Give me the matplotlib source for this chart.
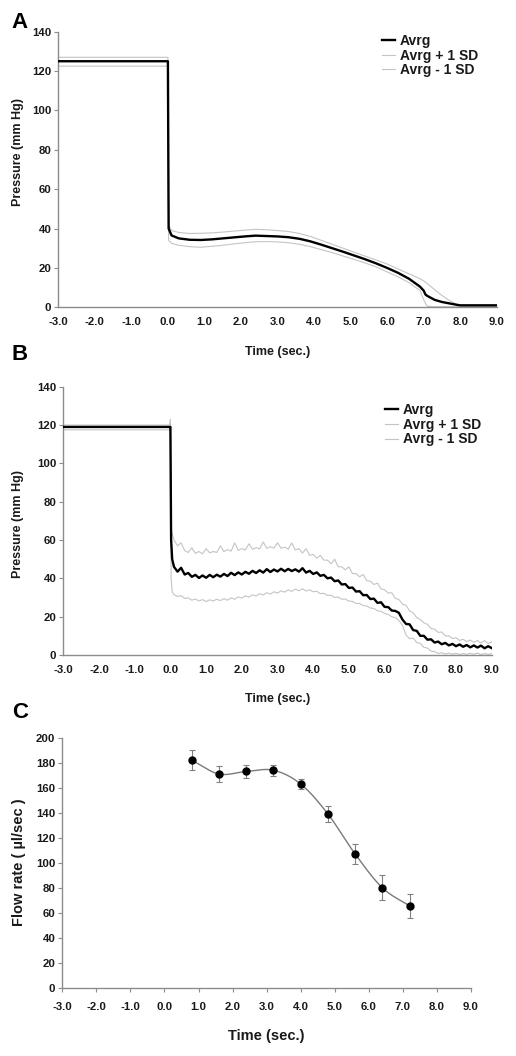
import numpy as np
import matplotlib
matplotlib.use("Agg")
import matplotlib.pyplot as plt

plt.rcParams['font.family'] = ['Liberation Sans', 'DejaVu Sans']
plt.rcParams['font.weight'] = 'bold'
plt.rcParams['axes.unicode_minus'] = False

# ---------------- Panel A data ----------------
time_a = [-3.0, 0.0, 0.02, 0.1, 0.3, 0.6, 0.9, 1.2, 1.5, 1.8, 2.1, 2.4, 2.7, 3.0,
          3.3, 3.6, 3.9, 4.2, 4.5, 4.8, 5.1, 5.4, 5.7, 6.0, 6.3, 6.6, 6.9, 7.0,
          7.05, 7.1, 7.3, 7.5, 7.7, 7.9, 8.0, 9.0]
avg_a = [125, 125, 40, 36.5, 35, 34.3, 34.2, 34.5, 35, 35.5, 36, 36.4, 36.2, 36,
         35.6, 34.8, 33.5, 31.8, 30, 28.2, 26.3, 24.4, 22.3, 20, 17.5, 14.5, 10.5, 8.5,
         6.5, 5.8, 3.8, 2.7, 2.0, 1.3, 1.0, 1.0]
plus_a = [127, 127, 42, 39, 38, 37.5, 37.6, 37.8, 38.2, 38.7, 39.2, 39.6, 39.4, 39,
          38.5, 37.5, 36, 34, 32, 30, 28, 26, 24, 22, 19.5, 17, 14.5, 13.5,
          12.8, 12, 9, 6, 3.5, 1.5, 1.0, 1.0]
minus_a = [122.5, 122.5, 34, 32.5, 31.5, 30.8, 30.5, 31, 31.5, 32.2, 32.8, 33.3, 33.4, 33.2,
           32.8, 32, 30.8, 29.3, 27.8, 26, 24.3, 22.5, 20.5, 18, 15.5, 12.5, 8.5, 4,
           2, 0.5, 0.3, 0.3, 0.3, 0.3, 0.3, 0.3]

# ---------------- Panel B data ----------------
time_b_start = [-3.0, -0.02, 0.0, 0.02, 0.05]
time_b_rest = np.round(np.arange(0.1, 9.05, 0.1), 1)
time_b = np.concatenate([time_b_start, time_b_rest])

avg_b = [119, 119, 119, 60, 50,
         46, 43.5, 45.5, 42, 42.8, 40.8, 41.8, 40.2, 41.5, 40.3,
         41.8, 40.6, 41.9, 40.9, 42.3, 41.2, 42.9, 41.7, 43.1, 42.0,
         43.4, 42.4, 43.9, 42.8, 44.2, 43.0, 44.8, 43.3, 44.6, 43.6,
         45.0, 43.7, 44.9, 43.8, 44.7, 43.5, 45.3, 43.0, 43.9, 42.3,
         43.1, 41.3, 41.8, 40.0, 40.4, 38.5, 38.9, 36.8, 37.0, 35.0,
         35.2, 33.1, 33.3, 31.2, 31.3, 29.2, 29.4, 27.2, 27.5, 25.1,
         25.0, 23.2, 23.0, 22.0, 18.5, 16.2, 16.0, 13.0, 12.6, 10.0,
         10.0, 8.0, 8.2, 6.5, 7.0, 5.6, 6.3, 5.0, 5.8, 4.6,
         5.5, 4.3, 5.2, 4.0, 5.0, 3.9, 4.9, 3.5, 4.6, 3.6]
plus_b = [120, 120, 123, 66, 63,
          60, 57, 58.5, 54.5, 53.5, 56, 53, 54, 52.8, 55.5,
          53.3, 54, 53.5, 57, 54, 55, 54.2, 58.5, 54.6, 55.5,
          54.8, 58, 55.2, 56, 55.4, 59, 55.6, 56.5, 55.8, 58.5,
          55.7, 56.3, 55.2, 58.5, 54.8, 55.5, 53.2, 55.5, 52, 52.5,
          50.5, 52, 49.5, 49.5, 47.6, 50, 46, 46, 44.5, 46,
          42.5, 42.5, 40.8, 42, 38.8, 38.5, 36.8, 37.5, 34.5, 34,
          32.3, 32.5, 29.5, 29, 26.5, 26, 23, 22, 19.5, 18.5,
          16.8, 16, 13.8, 13.5, 11.8, 12, 10, 10, 8.6, 9,
          7.6, 8.2, 7, 7.8, 6.6, 7.6, 6.3, 7.5, 6, 6.8]
minus_b = [117.5, 117.5, 117.5, 40, 33,
           31.5, 30.5, 31, 29.5, 29.8, 28.6, 29.2, 28.2, 28.9, 27.9,
           28.8, 28.2, 29.1, 28.4, 29.4, 28.6, 29.8, 29.1, 30.3, 29.7,
           30.9, 30.2, 31.4, 30.8, 32, 31.3, 32.5, 31.8, 33, 32.3,
           33.5, 32.8, 34, 33.2, 34.4, 33.5, 34.5, 33.4, 34, 33,
           33.2, 32, 32.2, 31.1, 31.2, 30.1, 30.2, 29.1, 29.2, 28.1,
           28, 26.9, 26.9, 25.8, 25.6, 24.5, 24.3, 23.1, 22.8, 21.6,
           21.2, 20, 19.5, 18, 15.5, 10.5, 8.5, 8.8, 6.5, 6,
           4, 3.6, 2, 1.8, 0.8, 1.2, 0.5, 1, 0.4, 0.9,
           0.3, 0.8, 0.3, 0.9, 0.4, 1.0, 0.3, 0.8, 0.3, 0.7]

# ---------------- Panel C data ----------------
time_c = [0.8, 1.6, 2.4, 3.2, 4.0, 4.8, 5.6, 6.4, 7.2]
flow_c = [182, 171, 173, 174, 163, 139, 107, 80, 65.5]
flow_err = [8, 6, 5, 4.5, 3.7, 6.3, 7.8, 10, 9.7]

x_ticks = [-3.0, -2.0, -1.0, 0.0, 1.0, 2.0, 3.0, 4.0, 5.0, 6.0, 7.0, 8.0, 9.0]
x_ticklabels = ['-3.0', '-2.0', '-1.0', '0.0', '1.0', '2.0', '3.0', '4.0',
                '5.0', '6.0', '7.0', '8.0', '9.0']
legend_labels = ['Avrg', 'Avrg + 1 SD', 'Avrg - 1 SD']

W, H = 516, 1056
fig = plt.figure(figsize=(W / 100, H / 100), dpi=100)

def rect(l, t, r, b):
    return [l / W, 1 - b / H, (r - l) / W, (b - t) / H]

SPINE = '#8c8c8c'
TXT = '#1a1a1a'
SDCOL = '#c4c4c4'

def style(ax, xticks_marks=False):
    for s in ['top', 'right']:
        ax.spines[s].set_visible(False)
    for s in ['left', 'bottom']:
        ax.spines[s].set_color(SPINE)
        ax.spines[s].set_linewidth(1.0)
    ax.tick_params(axis='y', direction='out', length=3, width=0.8, color=SPINE,
                   labelsize=8.2, labelcolor=TXT, pad=2)
    ax.tick_params(axis='x', direction='out', length=3 if xticks_marks else 0,
                   width=0.8, color=SPINE, labelsize=8.2, labelcolor=TXT, pad=7)
    ax.set_xticks(x_ticks)
    ax.set_xticklabels(x_ticklabels)
    for lab in ax.get_xticklabels() + ax.get_yticklabels():
        lab.set_fontweight('bold')

# ---------- Panel A ----------
axA = fig.add_axes(rect(58.3, 31.7, 496.7, 307.3))
axA.plot(time_a, avg_a, color='black', lw=1.7, label=legend_labels[0], zorder=3)
axA.plot(time_a, plus_a, color=SDCOL, lw=0.8, label=legend_labels[1], zorder=2)
axA.plot(time_a, minus_a, color=SDCOL, lw=0.8, label=legend_labels[2], zorder=2)
axA.set_xlim(-3, 9)
axA.set_ylim(0, 140)
axA.set_yticks(range(0, 141, 20))
style(axA)
axA.set_xlabel('Time (sec.)', fontsize=9, fontweight='bold', color=TXT)
axA.xaxis.set_label_coords(0.5, -0.14)
legA = axA.legend(loc='upper left', bbox_to_anchor=((376 - 58.3) / 438.4, 1.012),
                  frameon=False, fontsize=10, handlelength=1.0, handletextpad=0.3,
                  labelspacing=0.05, borderaxespad=0.0)
for t in legA.get_texts():
    t.set_fontweight('bold'); t.set_color(TXT)

# ---------- Panel B ----------
axB = fig.add_axes(rect(63.3, 386.7, 491.7, 655))
axB.plot(time_b, avg_b, color='black', lw=1.7, label=legend_labels[0], zorder=3)
axB.plot(time_b, plus_b, color=SDCOL, lw=0.8, label=legend_labels[1], zorder=2)
axB.plot(time_b, minus_b, color=SDCOL, lw=0.8, label=legend_labels[2], zorder=2)
axB.set_xlim(-3, 9)
axB.set_ylim(0, 140)
axB.set_yticks(range(0, 141, 20))
style(axB)
axB.set_xlabel('Time (sec.)', fontsize=9, fontweight='bold', color=TXT)
axB.xaxis.set_label_coords(0.5, -0.142)
legB = axB.legend(loc='upper left', bbox_to_anchor=((379 - 63.3) / 428.4, 0.96),
                  frameon=False, fontsize=10, handlelength=1.0, handletextpad=0.3,
                  labelspacing=0.05, borderaxespad=0.0)
for t in legB.get_texts():
    t.set_fontweight('bold'); t.set_color(TXT)

# ---------- Panel C ----------
axC = fig.add_axes(rect(62.3, 737.7, 471, 988))

def catmull(x, y, n=20):
    x = np.asarray(x, float); y = np.asarray(y, float)
    px = np.concatenate([[2 * x[0] - x[1]], x, [2 * x[-1] - x[-2]]])
    py = np.concatenate([[2 * y[0] - y[1]], y, [2 * y[-1] - y[-2]]])
    xs, ys = [], []
    for i in range(1, len(px) - 2):
        s = np.linspace(0, 1, n, endpoint=False)
        for P, out in ((px, xs), (py, ys)):
            p0, p1, p2, p3 = P[i - 1], P[i], P[i + 1], P[i + 2]
            out.extend(0.5 * ((2 * p1) + (-p0 + p2) * s + (2 * p0 - 5 * p1 + 4 * p2 - p3) * s ** 2
                              + (-p0 + 3 * p1 - 3 * p2 + p3) * s ** 3))
    xs.append(x[-1]); ys.append(y[-1])
    return xs, ys

sx, sy = catmull(time_c, flow_c)
axC.plot(sx, sy, color='#7a7a7a', lw=1.0, zorder=2)
axC.errorbar(time_c, flow_c, yerr=flow_err, fmt='o', color='black', ms=5,
             ecolor='#808080', elinewidth=0.8, capsize=2.5, capthick=0.8, zorder=3)
axC.set_xlim(-3, 9)
axC.set_ylim(0, 200)
axC.set_yticks(range(0, 201, 20))
style(axC, xticks_marks=True)
axC.set_xlabel('Time (sec.)', fontsize=10.5, fontweight='bold', color=TXT)
axC.xaxis.set_label_coords(0.5, -0.164)

# ---------- y labels & panel letters ----------
fig.text(18 / W, 1 - 152 / H, 'Pressure (mm Hg)', rotation=90, ha='center', va='center',
         fontsize=9, fontweight='bold', color=TXT)
fig.text(18.3 / W, 1 - 524 / H, 'Pressure (mm Hg)', rotation=90, ha='center', va='center',
         fontsize=9, fontweight='bold', color=TXT)
fig.text(18.7 / W, 1 - 862.5 / H, 'Flow rate ( µl/sec )', rotation=90, ha='center', va='center',
         fontsize=10.5, fontweight='bold', color=TXT)
for letter, (lx, ly) in zip(['A', 'B', 'C'], [(20, 22), (20, 354), (20, 713)]):
    fig.text(lx / W, 1 - ly / H, letter, ha='center', va='center', fontsize=16,
             fontweight='bold', color='black')

fig.savefig('out.png', dpi=100)
